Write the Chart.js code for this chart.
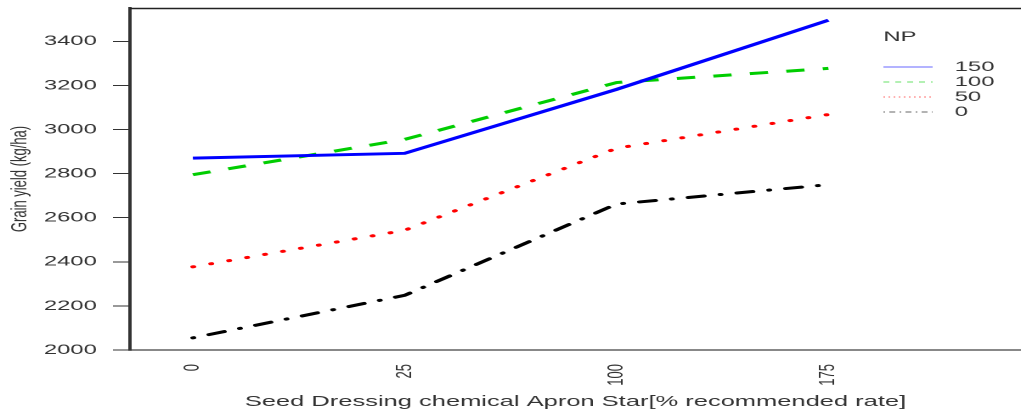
<!DOCTYPE html>
<html>
<head>
<meta charset="utf-8">
<script src="https://cdn.jsdelivr.net/npm/chart.js@4/dist/chart.umd.min.js"></script>
<style>
html,body{margin:0;padding:0;background:#fff;overflow:hidden;}
#wrap{width:601px;height:415px;transform:scaleX(1.6988);transform-origin:0 0;}
</style>
</head>
<body>
<div id="wrap"><canvas id="yieldChart" width="601" height="415"></canvas></div>
<script>

// Seed dressing levels (x categories)
const treatments = ["0","25","100","175"];

// Grain yield per NP level
const np150 = [2870,2892,3182,3496];
const np100 = [2795,2955,3213,3277];
const np50 = [2377,2543,2915,3068];
const np0 = [2055,2248,2662,2750];

const npLevels = ["150","100","50","0"];

const yTicks = [2000,2200,2400,2600,2800,3000,3200,3400];

const font = "'Liberation Sans', Arial, sans-serif";

function pts(arr){
return arr.map((v,i)=>({x:i,y:v}));
}

// legend + top frame line
const extras = {
id:"extras",
afterDraw(chart){
const ctx = chart.ctx;
const area = chart.chartArea;

ctx.save();
ctx.globalAlpha = 1;
ctx.setLineDash([]);
ctx.strokeStyle = "#222222";
ctx.lineWidth = 1.5;
ctx.beginPath();
ctx.moveTo(area.left, 8.5);
ctx.lineTo(chart.width, 8.5);
ctx.stroke();

ctx.font = "14px " + font;
ctx.fillStyle = "#333";
ctx.textBaseline = "middle";
ctx.textAlign = "left";
ctx.fillText("NP", 520, 37);

const dashes = [[], [3.5,3.5], [1,2], [1,2.5,3.5,2.5]];
chart.data.datasets.forEach((ds,i)=>{
let y = 67 + i*15;
ctx.strokeStyle = ds.borderColor;
ctx.globalAlpha = 0.6;
ctx.lineWidth = 1;
ctx.setLineDash(dashes[i]);
ctx.beginPath();
ctx.moveTo(520, y);
ctx.lineTo(549, y);
ctx.stroke();
ctx.globalAlpha = 1;
ctx.setLineDash([]);
ctx.fillStyle = "#333";
ctx.fillText(npLevels[i], 562, y);
});
ctx.restore();
}
};

const yieldChart =
document.getElementById("yieldChart");

new Chart(yieldChart,{

type:"line",

data:{

datasets:[
{
label:npLevels[0],
data:pts(np150),
borderColor:"#0000ff",
borderWidth:3
},
{
label:npLevels[1],
data:pts(np100),
borderColor:"#00cd00",
borderWidth:3,
borderDash:[10.8,10.8]
},
{
label:npLevels[2],
data:pts(np50),
borderColor:"#ff0000",
borderWidth:3,
borderDash:[0.5,10.5],
borderCapStyle:"round"
},
{
label:npLevels[3],
data:pts(np0),
borderColor:"#000000",
borderWidth:3,
borderDash:[0.5,9.5,9.5,9.5],
borderCapStyle:"round"
}
]

},

options:{
responsive:false,
animation:false,
devicePixelRatio:2,
layout:{padding:0},
elements:{
point:{radius:0},
line:{tension:0}
},
plugins:{
legend:{display:false},
tooltip:{enabled:false}
},
scales:{
x:{
type:"linear",
min:-0.297,
max:3.909,
afterBuildTicks(scale){
scale.ticks = treatments.map((t,i)=>({value:i}));
},
afterFit(scale){
scale.height = 65;
scale.paddingLeft = 0;
scale.paddingRight = 0;
},
grid:{display:false},
border:{display:true,color:"#888",width:2},
ticks:{
autoSkip:false,
minRotation:90,
maxRotation:90,
padding:6,
color:"#333",
font:{family:font,size:13},
callback:(v)=>treatments[v]
},
title:{
display:true,
text:"Seed Dressing chemical Apron Star[% recommended rate]",
color:"#333",
font:{family:font,size:15},
padding:{top:0,bottom:4}
}
},
y:{
min:2000,
max:3551,
afterBuildTicks(scale){
scale.ticks = yTicks.map(v=>({value:v}));
},
afterFit(scale){
scale.width = 76.5;
scale.paddingTop = 8;
scale.paddingBottom = 0;
},
grid:{
drawOnChartArea:false,
drawTicks:true,
tickLength:10,
color:"#333"
},
border:{display:true,color:"#333",width:2},
ticks:{
padding:9.5,
color:"#333",
font:{family:font,size:14},
callback:(v)=>String(v)
},
title:{
display:true,
text:"Grain yield (kg/ha)",
color:"#333",
font:{family:font,size:13},
padding:{top:4,bottom:0}
}
}
}
},

plugins:[extras]

});

</script>
</body>
</html>
